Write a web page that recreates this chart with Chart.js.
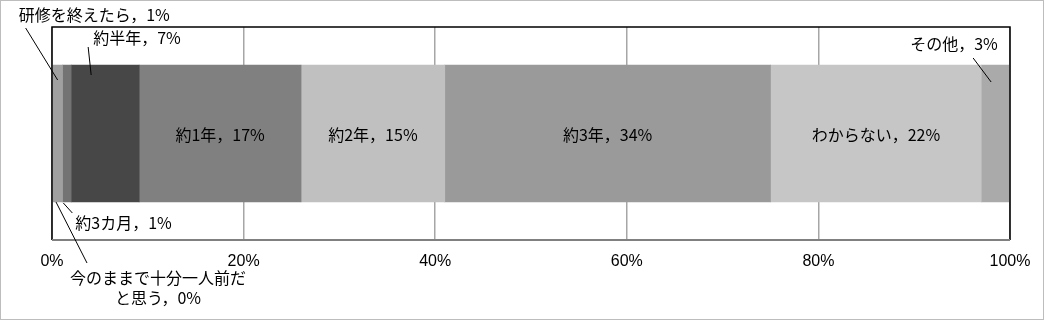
<!DOCTYPE html>
<html>

<head>
    <meta charset="utf-8">
    <title>一人前になるまでの期間</title>
    <script src="https://cdn.jsdelivr.net/npm/chart.js"></script>
    <style>
        body { margin: 0; background: #fff; }
    </style>
</head>

<body>
    <canvas id="barChart" width="1045" height="321"></canvas>

    <script>
        // categories (stack order, left to right)
        var names = ["今のままで十分一人前だと思う", "研修を終えたら", "約3カ月", "約半年", "約1年", "約2年", "約3年", "わからない", "その他"];
        // shares in %
        var shares = [0, 1.1, 0.9, 7.1, 16.9, 15.0, 34.0, 22.0, 3.0];
        // percentages as printed in the labels
        var printed = [0, 1, 1, 7, 17, 15, 34, 22, 3];
        var fills = ["#d9d9d9", "#a0a0a0", "#737373", "#474747", "#808080", "#c0c0c0", "#9a9a9a", "#c6c6c6", "#aaaaaa"];
        var xTicks = [0, 20, 40, 60, 80, 100];

        var cjk = '"Noto Sans CJK JP", "Noto Sans", sans-serif';

        // labels outside the bar, with a leader line (offsets from segment middle / bar edge)
        var callouts = {
            0: { edge: "bottom", a: [4, 0], b: [35, 61], lines: ["今のままで十分一人前だ", "と思う，"], at: [106, 76], align: "center" },
            1: { edge: "top", a: [0, 15], b: [-32, -37], at: [-39, -50], align: "left" },
            2: { edge: "bottom", a: [-3.5, 1], b: [5.5, 11], at: [8.5, 21], align: "left" },
            3: { edge: "top", a: [-14, 10], b: [-17, -18], at: [-12, -27], align: "left" },
            8: { edge: "top", a: [-4.5, 17], b: [-22.5, -7], at: [-85.5, -21], align: "left" }
        };

        var frame = {
            id: "frame",
            beforeDraw: function (chart) {
                var c = chart.ctx;
                c.save();
                c.strokeStyle = "#bdbdbd";
                c.lineWidth = 1;
                c.strokeRect(0.5, 0.5, chart.width - 2, chart.height - 2);
                c.restore();
            },
            afterDatasetsDraw: function (chart) {
                var c = chart.ctx, a = chart.chartArea;
                c.save();
                c.lineWidth = 1.5;
                c.strokeStyle = "#000";
                c.beginPath();
                c.moveTo(a.left, a.bottom);
                c.lineTo(a.left, a.top);
                c.lineTo(a.right, a.top);
                c.lineTo(a.right, a.bottom);
                c.stroke();
                c.strokeStyle = "#808080";
                c.lineWidth = 2;
                c.beginPath();
                c.moveTo(a.left, a.bottom);
                c.lineTo(a.right, a.bottom);
                c.stroke();

                // segment labels
                c.font = "16px " + cjk;
                c.fillStyle = "#000";
                c.textBaseline = "middle";
                chart.data.datasets.forEach(function (ds, i) {
                    var el = chart.getDatasetMeta(i).data[0];
                    var left = Math.min(el.base, el.x), right = Math.max(el.base, el.x);
                    var mid = (left + right) / 2;
                    var txt = names[i] + "，" + printed[i] + "%";
                    var co = callouts[i];
                    if (!co) {
                        c.textAlign = "center";
                        c.fillText(txt, mid, el.y + 1);
                        return;
                    }
                    var ey = co.edge === "top" ? el.y - el.height / 2 : el.y + el.height / 2;
                    c.strokeStyle = "#000";
                    c.lineWidth = 1;
                    c.beginPath();
                    c.moveTo(mid + co.a[0], ey + co.a[1]);
                    c.lineTo(mid + co.b[0], ey + co.b[1]);
                    c.stroke();
                    c.textAlign = co.align;
                    if (co.lines) {
                        c.fillText(co.lines[0], mid + co.at[0], ey + co.at[1]);
                        c.fillText(co.lines[1] + printed[i] + "%", mid + co.at[0], ey + co.at[1] + 20);
                    } else {
                        c.fillText(txt, mid + co.at[0], ey + co.at[1]);
                    }
                });
                c.restore();
            }
        };

        new Chart("barChart", {
            type: "bar",
            data: {
                labels: [""],
                datasets: names.map(function (n, i) {
                    return {
                        label: n,
                        data: [shares[i]],
                        backgroundColor: fills[i],
                        borderWidth: 0,
                        barThickness: 137
                    };
                })
            },
            options: {
                indexAxis: "y",
                responsive: false,
                animation: false,
                layout: { padding: { left: 52, right: 35, top: 27, bottom: 0 } },
                plugins: { legend: { display: false }, tooltip: { enabled: false } },
                scales: {
                    x: {
                        stacked: true,
                        min: 0,
                        max: 100,
                        afterBuildTicks: function (s) { s.ticks = xTicks.map(function (v) { return { value: v }; }); },
                        afterFit: function (s) { s.height = 81; },
                        grid: { color: "#a6a6a6", lineWidth: 1.5, drawTicks: false },
                        border: { display: false },
                        ticks: {
                            padding: 12,
                            maxRotation: 0,
                            color: "#000",
                            font: { family: '"Liberation Sans", Arial, sans-serif', size: 16 },
                            callback: function (v) { return v + "%"; }
                        }
                    },
                    y: { stacked: true, display: false }
                }
            },
            plugins: [frame]
        });
    </script>
</body>

</html>
